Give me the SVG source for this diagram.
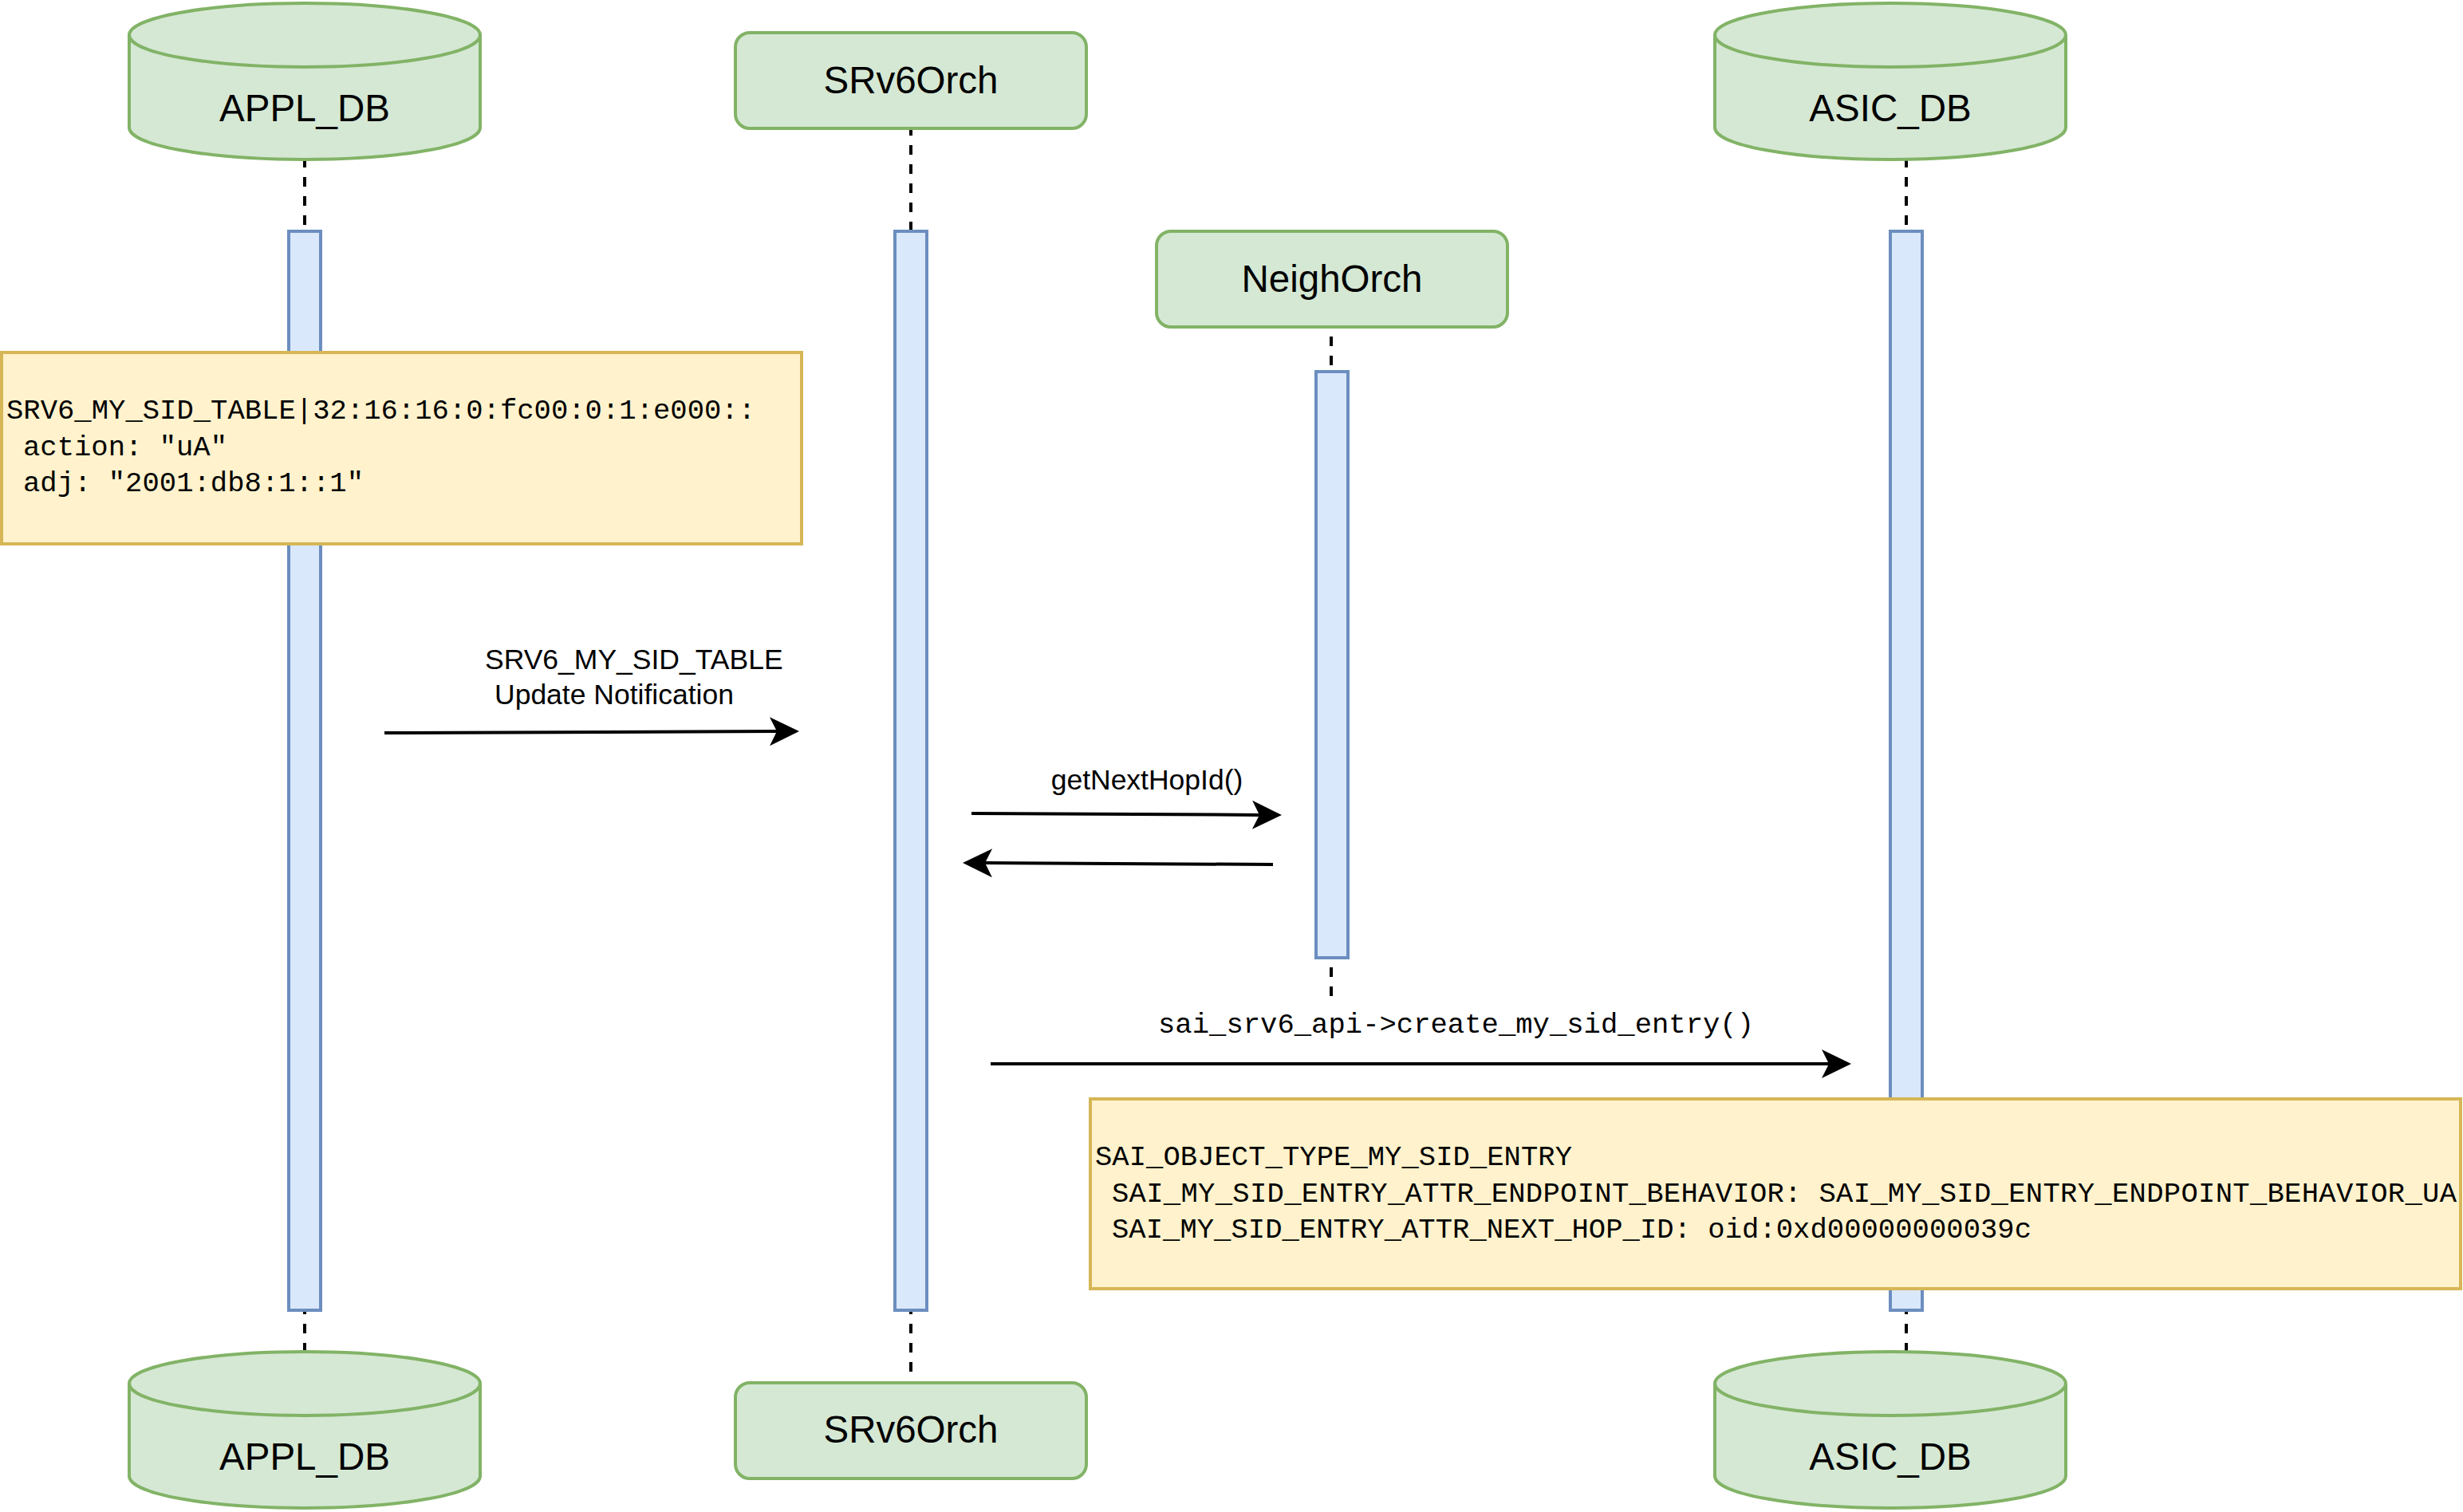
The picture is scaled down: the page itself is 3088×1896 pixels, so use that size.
<svg xmlns="http://www.w3.org/2000/svg" width="3088" height="1896" viewBox="0 0 3088 1896">
<style>
.db{fill:#d5e8d4;stroke:#82b366;stroke-width:4}
.box{fill:#d5e8d4;stroke:#82b366;stroke-width:4}
.bar{fill:#dae8fc;stroke:#6c8ebf;stroke-width:4}
.note{fill:#fff2cc;stroke:#d6b656;stroke-width:4}
.life{fill:none;stroke:#000;stroke-width:4;stroke-dasharray:12 12}
.msg{fill:none;stroke:#000;stroke-width:4;marker-end:url(#arr)}
.big{font-family:"Liberation Sans",Arial,Helvetica,sans-serif;font-size:47.5px;fill:#000;text-anchor:middle}
.lbl{font-family:"Liberation Sans",Arial,Helvetica,sans-serif;font-size:35.5px;fill:#000}
.mono{font-family:"Liberation Mono","Courier New",monospace;font-size:35.5px;fill:#000}
</style>
<defs>
<marker id="arr" markerUnits="userSpaceOnUse" markerWidth="38" markerHeight="38" refX="9" refY="18" orient="auto" viewBox="0 0 38 38" overflow="visible">
<path d="M0,0 L37,18 L0,36 L9,18 Z" fill="#000" stroke="none"/>
</marker>
</defs>

<g id="connectors">
<line class="life" x1="382" y1="198" x2="382" y2="288"/>
<line class="life" x1="1142" y1="158" x2="1142" y2="288"/>
<line class="life" x1="1669" y1="422" x2="1669" y2="464"/>
<line class="life" x1="2390" y1="198" x2="2390" y2="288"/>
<line class="life" x1="382" y1="1636" x2="382" y2="1696"/>
<line class="life" x1="1142" y1="1636" x2="1142" y2="1734"/>
<line class="life" x1="1669" y1="1213" x2="1669" y2="1250"/>
<line class="life" x1="2390" y1="1636" x2="2390" y2="1696"/>
<path class="msg" d="M482,919 L974,917.1"/>
<path class="msg" d="M1218,1020 L1579,1021.9"/>
<path class="msg" d="M1596,1084 L1235,1082.1"/>
<path class="msg" d="M1242,1334 L2293,1334"/>
<text class="lbl" x="608" y="839">SRV6_MY_SID_TABLE</text>
<text class="lbl" x="620" y="883">Update Notification</text>
<text class="lbl" x="1438" y="990" text-anchor="middle">getNextHopId()</text>
<text class="mono" x="1452" y="1295" textLength="747" lengthAdjust="spacing">sai_srv6_api-&gt;create_my_sid_entry()</text>
</g>

<g id="appl_db_bar"><rect class="bar" x="362" y="290" width="40" height="1353"/></g>
<g id="srv6orch_bar"><rect class="bar" x="1122" y="290" width="40" height="1353"/></g>
<g id="neighorch_bar"><rect class="bar" x="1650" y="466" width="40" height="735"/></g>
<g id="asic_db_bar"><rect class="bar" x="2370" y="290" width="40" height="1353"/></g>

<g id="note_appl">
<rect class="note" x="2" y="442" width="1003" height="240"/>
<text class="mono" x="8" y="525" textLength="939" lengthAdjust="spacing">SRV6_MY_SID_TABLE|32:16:16:0:fc00:0:1:e000::</text>
<text class="mono" x="29" y="570.5" textLength="256" lengthAdjust="spacing">action: "uA"</text>
<text class="mono" x="29" y="616" textLength="427" lengthAdjust="spacing">adj: "2001:db8:1::1"</text>
</g>

<g id="note_asic">
<rect class="note" x="1367" y="1378" width="1718" height="238"/>
<text class="mono" x="1373" y="1461" textLength="598" lengthAdjust="spacing">SAI_OBJECT_TYPE_MY_SID_ENTRY</text>
<text class="mono" x="1394" y="1506.5" textLength="1686" lengthAdjust="spacing">SAI_MY_SID_ENTRY_ATTR_ENDPOINT_BEHAVIOR: SAI_MY_SID_ENTRY_ENDPOINT_BEHAVIOR_UA</text>
<text class="mono" x="1394" y="1552" textLength="1153" lengthAdjust="spacing">SAI_MY_SID_ENTRY_ATTR_NEXT_HOP_ID: oid:0xd00000000039c</text>
</g>

<g id="appl_db_top">
<path class="db" d="M162,44 A220,40 0 0 1 602,44 V160 A220,40 0 0 1 162,160 Z"/>
<path class="db" d="M162,44 A220,40 0 0 0 602,44" style="fill:none"/>
<text class="big" x="382" y="152">APPL_DB</text>
</g>

<g id="srv6orch_top">
<rect class="box" x="922" y="41" width="440" height="120" rx="18" ry="18"/>
<text class="big" x="1142" y="117">SRv6Orch</text>
</g>

<g id="neighorch">
<rect class="box" x="1450" y="290" width="440" height="120" rx="18" ry="18"/>
<text class="big" x="1670" y="366">NeighOrch</text>
</g>

<g id="asic_db_top">
<path class="db" d="M2150,44 A220,40 0 0 1 2590,44 V160 A220,40 0 0 1 2150,160 Z"/>
<path class="db" d="M2150,44 A220,40 0 0 0 2590,44" style="fill:none"/>
<text class="big" x="2370" y="152">ASIC_DB</text>
</g>

<g id="appl_db_bottom">
<path class="db" d="M162,1735 A220,40 0 0 1 602,1735 V1851 A220,40 0 0 1 162,1851 Z"/>
<path class="db" d="M162,1735 A220,40 0 0 0 602,1735" style="fill:none"/>
<text class="big" x="382" y="1843">APPL_DB</text>
</g>

<g id="srv6orch_bottom">
<rect class="box" x="922" y="1734" width="440" height="120" rx="18" ry="18"/>
<text class="big" x="1142" y="1809">SRv6Orch</text>
</g>

<g id="asic_db_bottom">
<path class="db" d="M2150,1735 A220,40 0 0 1 2590,1735 V1851 A220,40 0 0 1 2150,1851 Z"/>
<path class="db" d="M2150,1735 A220,40 0 0 0 2590,1735" style="fill:none"/>
<text class="big" x="2370" y="1843">ASIC_DB</text>
</g>
</svg>
